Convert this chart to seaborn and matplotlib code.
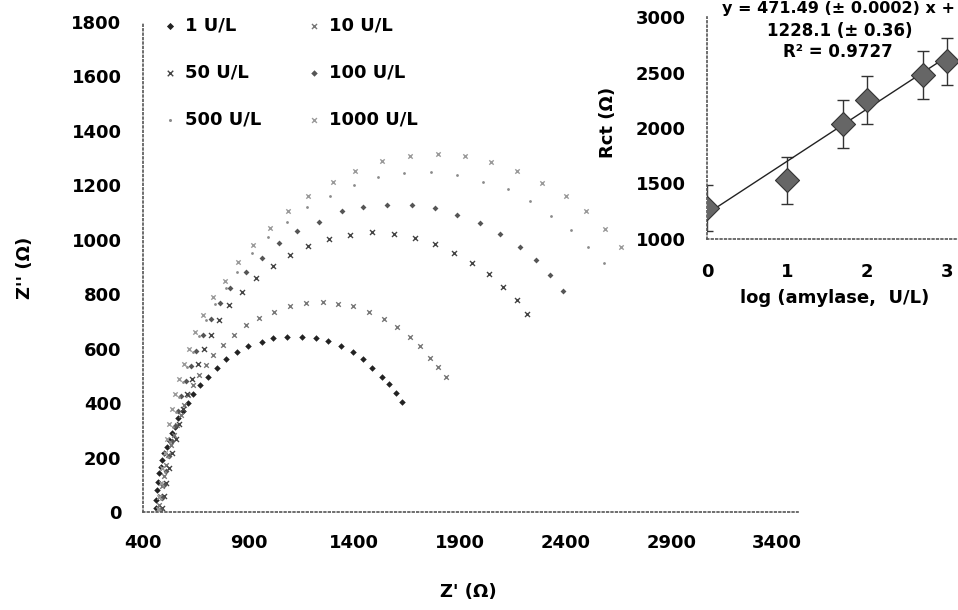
import numpy as np
import matplotlib
matplotlib.use("Agg")
import matplotlib.pyplot as plt
import seaborn as sns
import pandas as pd

# Nyquist data (Z', Z'')
z1_re = [460, 461, 465, 471, 477, 484, 491, 501, 512, 524, 539, 551, 567, 588, 611, 638, 670, 707, 751, 793, 846,
         898, 961, 1016, 1083, 1151, 1218, 1276, 1335, 1392, 1442, 1486, 1529, 1565, 1597, 1626]
z1_im = [15, 44, 81, 111, 142, 167, 191, 216, 240, 265, 289, 314, 344, 371, 402, 433, 467, 497, 530, 561, 589,
         608, 626, 641, 644, 644, 641, 629, 610, 589, 561, 530, 497, 469, 436, 403]

z10_re = [475, 481, 489, 498, 508, 520, 533, 547, 562, 578, 595, 615, 638, 665, 697, 733, 777, 830,
          887, 950, 1021, 1095, 1170, 1250, 1324, 1395, 1469, 1540, 1603, 1663, 1710, 1758, 1794, 1832]
z10_im = [25, 60, 97, 134, 171, 208, 245, 282, 319, 356, 393, 430, 467, 503, 540, 577, 614, 651,
          687, 712, 736, 755, 767, 771, 763, 755, 734, 709, 681, 644, 610, 567, 534, 495]

z50_re = [489, 498, 509, 523, 538, 554, 571, 589, 609, 632, 658, 688, 722, 762, 808, 867, 934, 1013, 1095,
          1182, 1281, 1379, 1482, 1587, 1687, 1784, 1872, 1955, 2037, 2104, 2168, 2216]
z50_im = [15, 60, 108, 160, 215, 270, 325, 380, 434, 489, 543, 597, 650, 705, 761, 810, 859, 904, 945,
          978, 1002, 1018, 1027, 1022, 1008, 985, 951, 914, 874, 826, 777, 728]

z100_re = [484, 491, 500, 511, 523, 536, 550, 565, 582, 602, 625, 652, 684, 722, 764, 812, 887, 961, 1045,
           1130, 1234, 1340, 1442, 1553, 1671, 1781, 1884, 1994, 2089, 2183, 2262, 2328, 2388]
z100_im = [10, 52, 100, 151, 206, 261, 316, 371, 426, 481, 536, 592, 650, 708, 767, 822, 883, 933, 988,
           1034, 1067, 1104, 1122, 1129, 1129, 1116, 1092, 1063, 1022, 973, 926, 869, 812]

z500_re = [481, 487, 495, 505, 516, 528, 541, 555, 571, 589, 610, 635, 664, 700, 741, 793, 846, 914, 993,
           1080, 1174, 1285, 1398, 1513, 1636, 1762, 1887, 2010, 2128, 2231, 2331, 2428, 2506, 2580]
z500_im = [8, 48, 95, 147, 202, 257, 312, 367, 422, 477, 532, 588, 645, 705, 765, 822, 883, 953, 1010,
           1065, 1119, 1162, 1200, 1229, 1247, 1249, 1239, 1214, 1186, 1141, 1088, 1037, 975, 914]

z1000_re = [471, 476, 483, 492, 502, 513, 525, 538, 553, 570, 592, 618, 648, 686, 730, 788, 851, 922, 1001,
            1087, 1182, 1297, 1403, 1529, 1663, 1794, 1923, 2049, 2170, 2290, 2401, 2495, 2585, 2664]
z1000_im = [10, 55, 105, 160, 215, 270, 325, 380, 435, 490, 545, 600, 660, 722, 788, 850, 920, 981, 1045,
            1104, 1162, 1214, 1254, 1288, 1306, 1315, 1306, 1284, 1251, 1210, 1159, 1104, 1040, 975]

labels = ["1 U/L", "10 U/L", "50 U/L", "100 U/L", "500 U/L", "1000 U/L"]

# inset calibration
log_conc = [0, 1, 1.699, 2, 2.699, 3]
rct = [1280, 1530, 2036, 2250, 2480, 2600]
rct_err = [210, 212, 215, 215, 215, 210]
slope, intercept = 471.49, 1228.1

FS = 13


def style_axis(ax):
    sns.despine(ax=ax)
    for side in ["left", "bottom"]:
        ax.spines[side].set_linestyle(":")
        ax.spines[side].set_color("#555555")
        ax.spines[side].set_linewidth(1.2)
    ax.tick_params(which="major", direction="inout", length=7, width=0.8, color="#777777",
                   labelsize=FS, labelcolor="black")
    ax.tick_params(which="minor", direction="inout", length=3, width=0.6, color="#999999")
    for lab in ax.get_xticklabels() + ax.get_yticklabels():
        lab.set_fontweight("bold")


def main():
    sns.set_theme(style="white")
    plt.rcParams["font.family"] = ["DejaVu Sans"]
    plt.rcParams["text.color"] = "black"

    fig = plt.figure(figsize=(9.58, 6.10), dpi=100)
    ax = fig.add_axes([143 / 958, 98 / 610, 655 / 958, 490 / 610])

    series = [(z1_re, z1_im), (z10_re, z10_im), (z50_re, z50_im),
              (z100_re, z100_im), (z500_re, z500_im), (z1000_re, z1000_im)]
    markers = ["D", "x", "x", "D", ".", "x"]
    colors = ["#222222", "#777777", "#444444", "#555555", "#8a8a8a", "#9a9a9a"]
    sizes = [11, 11, 13, 9, 16, 10]

    for (zr, zi), lab, m, c, s in zip(series, labels, markers, colors, sizes):
        df = pd.DataFrame({"re": zr, "im": zi})
        kw = dict(linewidth=1.0) if m == "x" else dict(linewidth=0)
        sns.scatterplot(data=df, x="re", y="im", marker=m, color=c, s=s, label=lab, ax=ax, **kw)

    ax.set_xlim(400, 3500)
    ax.set_ylim(0, 1800)
    ax.set_xticks(range(400, 3401, 500))
    ax.set_yticks(range(0, 1801, 200))
    ax.set_xticks(range(400, 3501, 100), minor=True)
    ax.set_yticks(range(0, 1801, 100), minor=True)
    style_axis(ax)
    ax.tick_params(axis="y", pad=12)
    ax.tick_params(axis="x", pad=12)
    ax.set_xlabel("")
    ax.set_ylabel("")

    handles, labs = ax.get_legend_handles_labels()
    order = [0, 2, 4, 1, 3, 5]
    ax.legend([handles[i] for i in order], [labs[i] for i in order], ncol=2,
              loc="upper left", bbox_to_anchor=(161 / 958, 1 - 17 / 610),
              bbox_transform=fig.transFigure, frameon=False, borderpad=0,
              borderaxespad=0, handletextpad=0.35, handlelength=1.0,
              labelspacing=1.6, columnspacing=2.4,
              prop={"weight": "bold", "size": FS}, markerscale=1.1)

    fig.text(25 / 958, 1 - 268 / 610, "Z'' (\u03a9)", rotation=90, ha="center", va="center",
             fontsize=FS, fontweight="bold")
    fig.text(468 / 958, 1 - 592 / 610, "Z' (\u03a9)", ha="center", va="center",
             fontsize=FS, fontweight="bold")

    # inset
    ins = fig.add_axes([707 / 958, 371 / 610, 256 / 958, 222 / 610])
    ins.errorbar(log_conc, rct, yerr=rct_err, fmt="none", ecolor="#333333",
                 elinewidth=1.0, capsize=4, capthick=1.0)
    line_x = [0, 3]
    line_df = pd.DataFrame({"x": line_x, "y": [slope * v + intercept for v in line_x]})
    sns.lineplot(data=line_df, x="x", y="y", color="#222222", linewidth=1.0, ax=ins)
    sns.scatterplot(x=log_conc, y=rct, marker="D", s=150, color="#666666",
                    edgecolor="#333333", linewidth=0.8, ax=ins, zorder=3)
    ins.set_xlim(0, 3.2)
    ins.set_ylim(1000, 3000)
    ins.set_xticks([0, 1, 2, 3])
    ins.set_yticks([1000, 1500, 2000, 2500, 3000])
    ins.patch.set_alpha(0)
    style_axis(ins)
    ins.tick_params(axis="y", pad=12)
    ins.tick_params(axis="x", pad=14)
    ins.set_xlabel("")
    ins.set_ylabel("")

    fig.text(608 / 958, 1 - 122 / 610, "Rct (\u03a9)", rotation=90, ha="center", va="center",
             fontsize=FS, fontweight="bold")
    fig.text(835 / 958, 1 - 298 / 610, "log (amylase,  U/L)", ha="center", va="center",
             fontsize=FS, fontweight="bold")
    fig.text(838 / 958, 1 - 9 / 610, "y = 471.49 (\u00b1 0.0002) x +", ha="center", va="center",
             fontsize=11.5, fontweight="bold")
    fig.text(840 / 958, 1 - 31 / 610, "1228.1 (\u00b1 0.36)", ha="center", va="center",
             fontsize=12, fontweight="bold")
    fig.text(838 / 958, 1 - 52 / 610, "R\u00b2 = 0.9727", ha="center", va="center",
             fontsize=12, fontweight="bold")

    fig.savefig("out.png", dpi=100)


if __name__ == "__main__":
    main()
